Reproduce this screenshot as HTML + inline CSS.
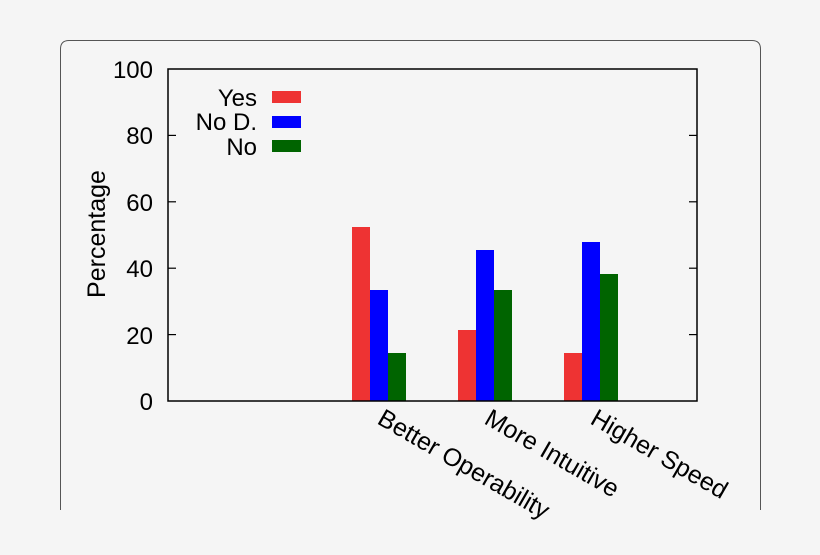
<!DOCTYPE html>
<html><head><style>body{margin:0;background:#f5f5f5}</style></head><body>
<svg width="820" height="550" xmlns="http://www.w3.org/2000/svg" font-family="Liberation Sans, sans-serif">
<rect width="820" height="550" fill="#f5f5f5"/>
<path d="M60.5 510 V49 Q60.5 40.5 69 40.5 H752 Q760.5 40.5 760.5 49 V510" fill="none" stroke="#555" stroke-width="1"/>
<g fill="#ee3333">
<rect x="352" y="227" width="18" height="174"/><rect x="458" y="330" width="18" height="71"/><rect x="564" y="353" width="18" height="48"/>
</g>
<g fill="#0000ff">
<rect x="370" y="290" width="18" height="111"/><rect x="476" y="250" width="18" height="151"/><rect x="582" y="242" width="18" height="159"/>
</g>
<g fill="#006400">
<rect x="388" y="353" width="18" height="48"/><rect x="494" y="290" width="18" height="111"/><rect x="600" y="274" width="18" height="127"/>
</g>
<rect x="168" y="69" width="529" height="332" fill="none" stroke="#000" stroke-width="1.5"/>
<g stroke="#000" stroke-width="1.2">
<line x1="168" y1="135.4" x2="176" y2="135.4"/><line x1="697" y1="135.4" x2="689" y2="135.4"/>
<line x1="168" y1="201.8" x2="176" y2="201.8"/><line x1="697" y1="201.8" x2="689" y2="201.8"/>
<line x1="168" y1="268.2" x2="176" y2="268.2"/><line x1="697" y1="268.2" x2="689" y2="268.2"/>
<line x1="168" y1="334.6" x2="176" y2="334.6"/><line x1="697" y1="334.6" x2="689" y2="334.6"/>
</g>
<g font-size="24" text-anchor="end" fill="#000">
<text x="153" y="78">100</text><text x="153" y="144">80</text><text x="153" y="211">60</text>
<text x="153" y="277">40</text><text x="153" y="344">20</text><text x="153" y="410">0</text>
<text x="257" y="106">Yes</text><text x="257" y="130">No D.</text><text x="257" y="155">No</text>
</g>
<rect x="272" y="91" width="29" height="12" fill="#ee3333"/>
<rect x="272" y="116" width="29" height="12" fill="#0000ff"/>
<rect x="272" y="140" width="29" height="12" fill="#006400"/>
<text transform="translate(105,234) rotate(-90)" font-size="25" text-anchor="middle">Percentage</text>
<g font-size="25" fill="#000">
<text transform="translate(376,423) rotate(30)">Better Operability</text>
<text transform="translate(483,423) rotate(30)">More Intuitive</text>
<text transform="translate(589,423) rotate(30)">Higher Speed</text>
</g>
</svg>
</body></html>
